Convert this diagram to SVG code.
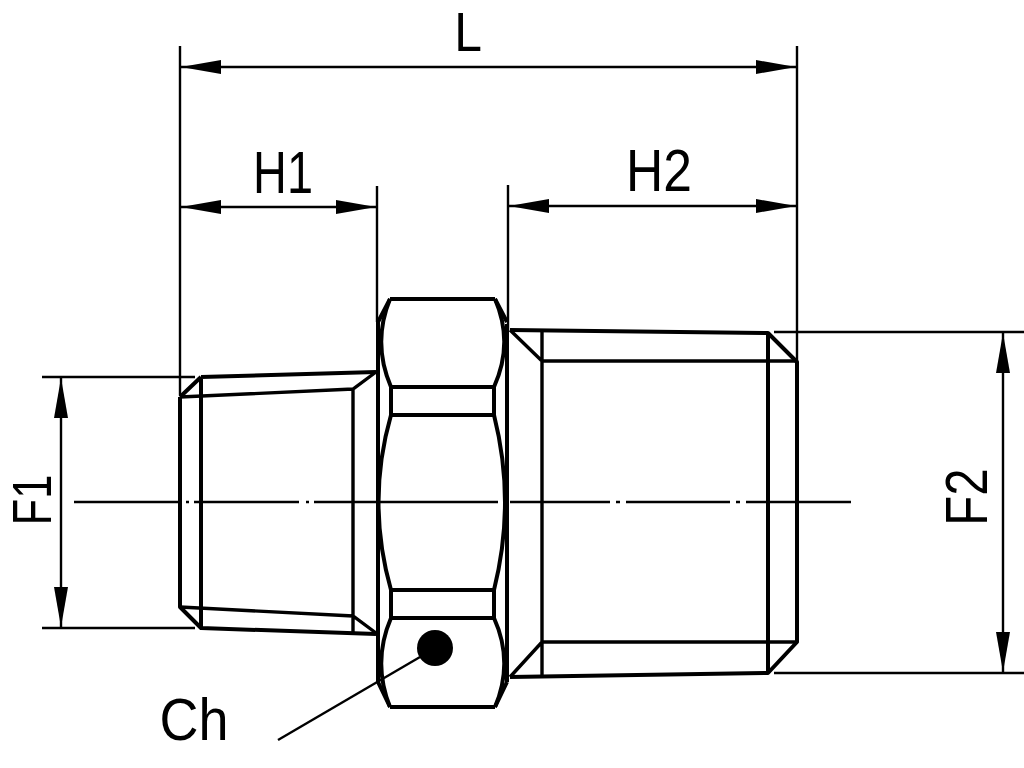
<svg xmlns="http://www.w3.org/2000/svg" width="1024" height="768" viewBox="0 0 1024 768">
<style>
.b{fill:none;stroke:#000;stroke-width:4;stroke-linejoin:round}
.m{fill:none;stroke:#000;stroke-width:3.4}
.t{fill:none;stroke:#000;stroke-width:2.4}
.x{font-family:"Liberation Sans",Arial,sans-serif;font-size:60px;fill:#000}
</style>
<defs>
<marker id="a" viewBox="0 0 40 14" refX="40" refY="7" markerWidth="40" markerHeight="14" markerUnits="userSpaceOnUse" orient="auto-start-reverse"><path d="M0 0L40 7L0 14Z" fill="#000"/></marker>
</defs>
<rect width="1024" height="768" fill="#fff"/>
<g id="connectors">
<path class="t" d="M180 46V395M797 46V362M377 186V322M508 185V330M42 377H195M42 628H195M774 332H1024M774 673H1024"/>
<path class="t" d="M181 67H796" marker-start="url(#a)" marker-end="url(#a)"/>
<path class="t" d="M181 207H376" marker-start="url(#a)" marker-end="url(#a)"/>
<path class="t" d="M509 206H796" marker-start="url(#a)" marker-end="url(#a)"/>
<path class="t" d="M61 378V627" marker-start="url(#a)" marker-end="url(#a)"/>
<path class="t" d="M1003 333V672" marker-start="url(#a)" marker-end="url(#a)"/>
<path class="t" d="M74 502H180M186 502H189M194 502H299M306 502H309M314 502H498M510 502H610M616 502H620M626 502H730M736 502H740M746 502H851"/>
<path class="t" d="M278 740L420 657"/>
</g>
<g id="left-thread">
<path class="b" d="M201 377L376 372M180 397L201 377M180 397V607L201 628L376 634M201 377V628"/>
<path class="m" d="M180 397L353 389L376 372M353 389V632M180 607L353 616L376 633"/>
</g>
<g id="hex-nut">
<path class="b" d="M378 322V682M507 324V682"/>
<path class="b" d="M390 299H495M390 299L378 322M495 299L507 322M390 707H495M390 707L378 682M495 707L507 682"/>
<path class="b" d="M390 299Q372 343 391 387H494Q514 343 495 299M391 387V415H494V387M391 415Q366 502 391 590H494Q516 502 494 415M391 590V618H494V590M391 618Q372 662 390 707M494 618Q514 662 495 707"/>
<circle cx="435" cy="648" r="18" fill="#000"/>
</g>
<g id="right-thread">
<path class="b" d="M510 330L768 333L797 362V642L768 673L510 677M768 333V673"/>
<path class="m" d="M510 330L542 361H797M542 330V676M510 677L542 642H797"/>
</g>
<g id="labels">
<text class="x" style="font-size:56px" transform="translate(468 51) scale(.89 1)" text-anchor="middle">L</text>
<text class="x" transform="translate(283 193) scale(.78 1)" text-anchor="middle">H1</text>
<text class="x" transform="translate(659 191) scale(.86 1)" text-anchor="middle">H2</text>
<text class="x" transform="translate(194 740) scale(.9 1)" text-anchor="middle">Ch</text>
<text class="x" style="font-size:55px" transform="translate(50.5 500) rotate(-90) scale(.785 1)" text-anchor="middle">F1</text>
<text class="x" transform="translate(987 497) rotate(-90) scale(.82 1)" text-anchor="middle">F2</text>
</g>
</svg>
